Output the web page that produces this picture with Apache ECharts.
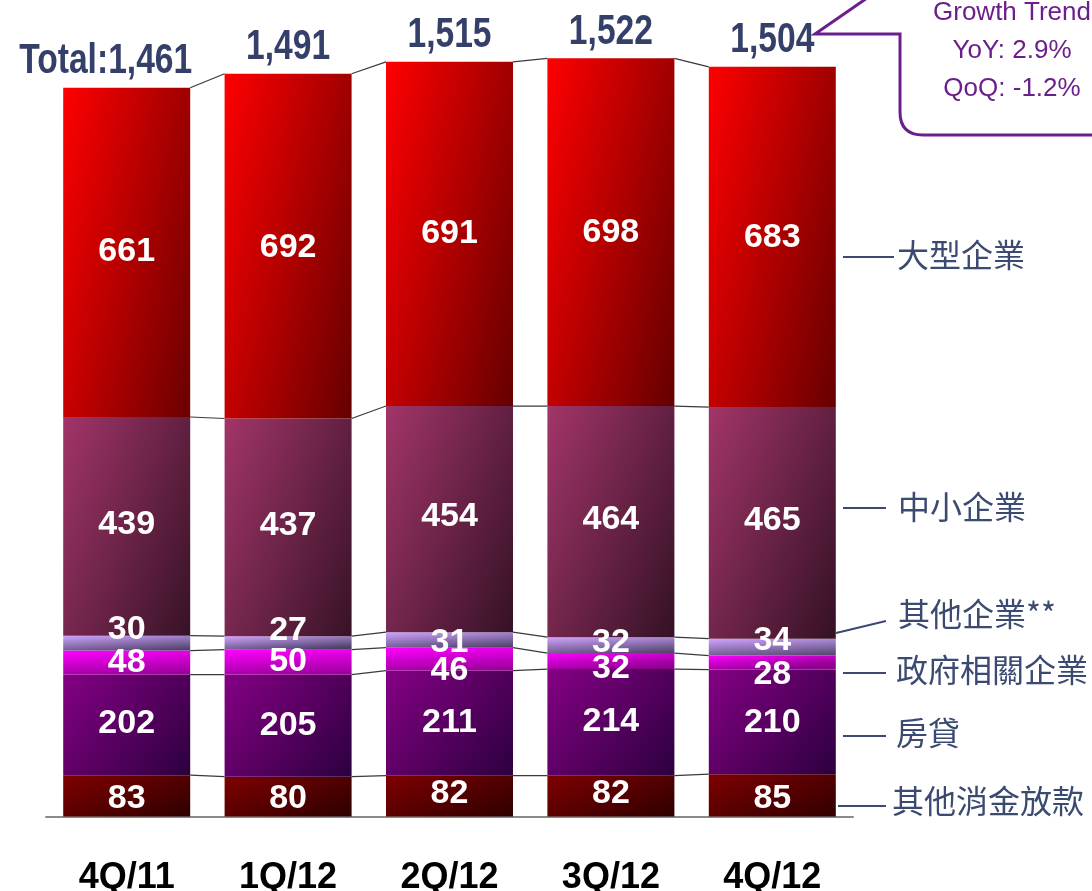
<!DOCTYPE html>
<html>
<head>
<meta charset="utf-8">
<script src="https://cdn.jsdelivr.net/npm/echarts@6/dist/echarts.min.js"></script>
<style>
html,body{margin:0;padding:0;background:#fff;}
#chart{width:1092px;height:891px;}
</style>
</head>
<body>
<div id="chart"></div>
<script>
// ---- data ----
const categories = ['4Q/11', '1Q/12', '2Q/12', '3Q/12', '4Q/12'];
const seriesNames = ['其他消金放款', '房貸', '政府相關企業', '其他企業**', '中小企業', '大型企業'];
const consumerOther = [83, 80, 82, 82, 85];
const mortgage = [202, 205, 211, 214, 210];
const govRelated = [48, 50, 46, 32, 28];
const otherCorp = [30, 27, 31, 32, 34];
const sme = [439, 437, 454, 464, 465];
const large = [661, 692, 691, 698, 683];
const totals = [1461, 1491, 1515, 1522, 1504];
const growthText = ['Growth Trend', 'YoY: 2.9%', 'QoQ: -1.2%'];

// ---- styles ----
const BAR_W = 127;
const stackData = [consumerOther, mortgage, govRelated, otherCorp, sme, large];
// gradient: colour weight along x (cu) and y (cv), typical segment height h
const grads = [
  { cu: 0.55, cv: 0.45, h: 41,  c: ['#800000', '#2e0000'] },
  { cu: 0.6,  cv: 0.4,  h: 102, c: ['#850085', '#2c003e'] },
  { cu: 0.25, cv: 0.75, h: 20,  c: ['#ff00ff', '#8e008e'] },
  { cu: 0.3,  cv: 0.7,  h: 16,  c: ['#d0a4ff', '#4c4066'] },
  { cu: 0.6,  cv: 0.4,  h: 222, c: ['#a23569', '#361226'] },
  { cu: 0.63, cv: 0.37, h: 335, c: ['#ff0000', '#680000'] }
];
// vertical label nudges (px) per series / bar
const labelNudge = [
  [3, 2, -2, -2, 3],
  [-1, 0, 0, -1, 1],
  [0, 0, 12, 8, 12],
  [-14, -12, 3, -3, -7],
  [-2, -2, -2, -2, -2],
  [-1, 1, 0, 0, 1]
];

function grad(g) {
  const w = BAR_W;
  const L = 1 / (g.cu * g.cu / (w * w) + g.cv * g.cv / (g.h * g.h));
  const x2 = g.cu * L / (w * w), y2 = g.cv * L / (g.h * g.h);
  return new echarts.graphic.LinearGradient(0, 0, x2, y2,
    [{ offset: 0, color: g.c[0] }, { offset: 1, color: g.c[1] }]);
}

// cumulative tops
const cum = stackData.map(() => []);
for (let i = 0; i < categories.length; i++) {
  let s = 0;
  for (let k = 0; k < stackData.length; k++) { s += stackData[k][i]; cum[k][i] = s; }
}
const N = stackData.length;
const connectorData = [];
for (let i = 0; i < categories.length - 1; i++) {
  const row = [i];
  for (let k = 0; k < N; k++) row.push(cum[k][i]);
  for (let k = 0; k < N; k++) row.push(cum[k][i + 1]);
  connectorData.push(row);
}

const barSeries = stackData.map((arr, k) => ({
  name: seriesNames[k],
  type: 'bar',
  stack: 'total',
  barWidth: BAR_W,
  data: arr.map((v, i) => ({ value: v, label: { offset: [0, labelNudge[k][i]] } })),
  itemStyle: { color: grad(grads[k]) },
  label: {
    show: true, position: 'inside',
    color: '#fff', fontFamily: '"Liberation Sans", Arial, sans-serif',
    fontWeight: 'bold', fontSize: 34
  },
  z: 3
}));

const connectorSeries = {
  type: 'custom',
  data: connectorData,
  encode: { x: 0, y: 1 },
  silent: true,
  z: 2,
  renderItem: function (params, api) {
    const i = api.value(0);
    const children = [];
    for (let k = 0; k < N; k++) {
      const a = api.coord([i, api.value(1 + k)]);
      const b = api.coord([i + 1, api.value(1 + N + k)]);
      children.push({
        type: 'line',
        shape: { x1: a[0] + BAR_W / 2, y1: a[1], x2: b[0] - BAR_W / 2, y2: b[1] },
        style: { stroke: '#3a3a3a', lineWidth: 1.2 }
      });
    }
    return { type: 'group', children: children };
  }
};

const totalSeries = {
  type: 'custom',
  data: totals.map((v, i) => [i, cum[N - 1][i], v]),
  encode: { x: 0, y: 1 },
  silent: true,
  z: 6,
  renderItem: function (params, api) {
    const i = api.value(0);
    const p = api.coord([i, api.value(1)]);
    const txt = (i === 0 ? 'Total:' : '') + api.value(2).toLocaleString('en-US');
    return {
      type: 'text',
      x: p[0] + (i === 0 ? -21 : 0),
      y: p[1] - 5,
      scaleX: 0.8,
      style: {
        text: txt, fill: '#35406a', fontWeight: 'bold', fontSize: 42,
        fontFamily: '"Liberation Sans", Arial, sans-serif',
        align: 'center', verticalAlign: 'bottom'
      }
    };
  }
};

// right-side annotation labels
const labelColor = '#3b4a70';
const rightLabels = [
  { text: '大型企業', tx: 897, ty: 255, l: [843, 257, 894, 257] },
  { text: '中小企業', tx: 898, ty: 507, l: [843, 508, 886, 508] },
  { text: '其他企業**', tx: 898, ty: 614, l: [836, 633, 886, 621] },
  { text: '政府相關企業', tx: 896, ty: 670, l: [843, 673, 886, 673] },
  { text: '房貸', tx: 896, ty: 733, l: [843, 736, 886, 736] },
  { text: '其他消金放款', tx: 892, ty: 801, l: [838, 806, 886, 806] }
];
const graphics = [];
rightLabels.forEach(r => {
  graphics.push({ type: 'line', shape: { x1: r.l[0], y1: r.l[1], x2: r.l[2], y2: r.l[3] },
    style: { stroke: labelColor, lineWidth: 2 }, z: 10 });
  graphics.push({ type: 'text', x: r.tx, y: r.ty, style: {
    text: r.text, fill: labelColor, fontSize: 32, verticalAlign: 'middle', align: 'left',
    fontFamily: '"Noto Sans CJK TC", "Noto Sans CJK SC", sans-serif', fontWeight: 'normal'
  }, z: 10 });
});
// growth callout
const purple = '#6c1f8c';
graphics.push({ type: 'polyline', shape: { points: [[870, -4], [815, 34], [900, 34], [900, 112]] },
  style: { stroke: purple, lineWidth: 3, fill: null }, z: 10 });
graphics.push({ type: 'bezierCurve', shape: { x1: 900, y1: 112, cpx1: 900, cpy1: 135, x2: 923, y2: 135 },
  style: { stroke: purple, lineWidth: 3, fill: null }, z: 10 });
graphics.push({ type: 'line', shape: { x1: 923, y1: 135, x2: 1100, y2: 135 },
  style: { stroke: purple, lineWidth: 3 }, z: 10 });
growthText.forEach((t, i) => {
  graphics.push({ type: 'text', x: 1012, y: 13 + i * 38, style: {
    text: t, fill: purple, fontSize: 26, align: 'center', verticalAlign: 'middle',
    fontFamily: '"Liberation Sans", Arial, sans-serif'
  }, z: 10 });
});

const chart = echarts.init(document.getElementById('chart'), null, { renderer: 'canvas' });
chart.setOption({
  animation: false,
  backgroundColor: '#ffffff',
  grid: { left: 46, right: 239, top: 19.5, bottom: 74.5, outerBoundsMode: 'none', containLabel: false },
  xAxis: {
    type: 'category', data: categories,
    axisLine: { show: true, lineStyle: { color: '#8a8a8a', width: 2 } },
    axisTick: { show: false },
    axisLabel: { margin: 44, color: '#000', fontWeight: 'bold', fontSize: 36,
      fontFamily: '"Liberation Sans", Arial, sans-serif' }
  },
  yAxis: { type: 'value', min: 0, max: 1600, show: false, splitLine: { show: false } },
  series: [...barSeries, connectorSeries, totalSeries],
  graphic: graphics
});
</script>
</body>
</html>
